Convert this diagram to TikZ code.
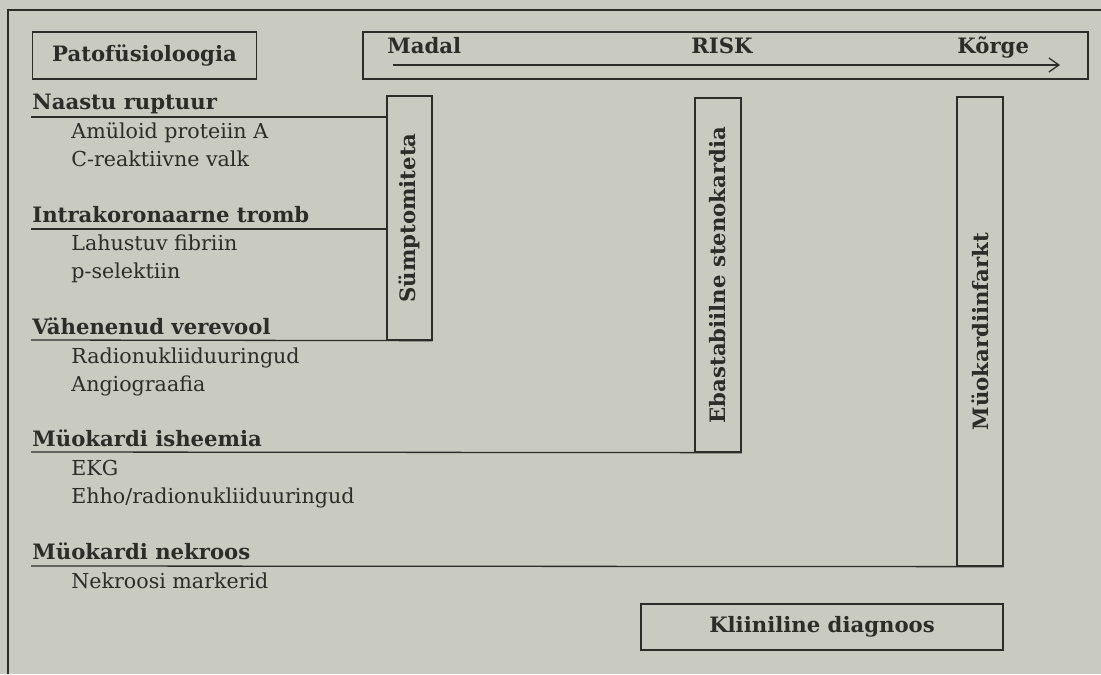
\documentclass[tikz,border=0pt]{standalone}
\usepackage{fontspec}
\setmainfont{DejaVu Serif}
\usetikzlibrary{arrows.meta}
\definecolor{paper}{RGB}{201,203,192}
\definecolor{ink}{RGB}{44,44,40}
\begin{document}
\begin{tikzpicture}[x=0.5pt,y=-0.5pt,
  every node/.style={text=ink},
  bfont/.style={font=\fontsize{10.6}{12}\selectfont\bfseries},
  box/.style={draw=ink, line width=0.65pt, inner sep=0pt},
  head/.style={bfont, anchor=base west, inner sep=0pt},
  sub/.style={font=\fontsize{10.3}{12}\selectfont, anchor=base west, inner sep=0pt},
  rule/.style={draw=ink, line width=0.65pt},
  vlabel/.style={bfont, rotate=90, inner sep=0pt}]
\fill[paper] (0,0) rectangle (1101,674);
\useasboundingbox (0,0) rectangle (1101,674);
% outer frame
\coordinate (fbl) at (8,674);
\coordinate (ftl) at (8,10);
\coordinate (ftr) at (1101,10);
\draw[rule] (fbl) -- (ftl) -- (ftr);
% top boxes
\node[box, minimum width=112pt, minimum height=23.5pt, bfont] (pato) at (144.5,55.5) {Patofüsioloogia};
\node[box, minimum width=362.5pt, minimum height=23.5pt] (risk) at (725.5,55.5) {};
\node[head] (madal) at (387,54) {Madal};
\node[bfont, anchor=base, inner sep=0pt] (risklbl) at (722,54) {RISK};
\node[head] (korge) at (957,54) {Kõrge};
\coordinate (arS) at (393,65);
\coordinate (arE) at (1060,65);
\draw[rule, -{Straight Barb[length=5pt,width=7pt]}] (arS) -- (arE);
% vertical boxes
\node[box, minimum width=22.5pt, minimum height=122pt] (symp) at (409.5,218) {};
\node[vlabel] (symplbl) at (symp.center) {Sümptomiteta};
\node[box, minimum width=23pt, minimum height=177pt] (ebast) at (718,275) {};
\node[vlabel] (ebastlbl) at (ebast.center) {Ebastabiilne stenokardia};
\node[box, minimum width=23pt, minimum height=234.5pt] (infarkt) at (980,331.5) {};
\node[vlabel] (infarktlbl) at (infarkt.center) {Müokardiinfarkt};
\node[box, minimum width=181pt, minimum height=23pt, bfont] (diag) at (822,627) {Kliiniline diagnoos};
% left column
\node[head] (h1) at (32,110) {Naastu ruptuur};
\node[sub] (s11) at (71,138) {Amüloid proteiin A};
\node[sub] (s12) at (71,166) {C-reaktiivne valk};
\node[head] (h2) at (32,222) {Intrakoronaarne tromb};
\node[sub] (s21) at (71,250) {Lahustuv fibriin};
\node[sub] (s22) at (71,278) {p-selektiin};
\node[head] (h3) at (32,334) {Vähenenud verevool};
\node[sub] (s31) at (71,363) {Radionukliiduuringud};
\node[sub] (s32) at (71,391) {Angiograafia};
\node[head] (h4) at (32,446) {Müokardi isheemia};
\node[sub] (s41) at (71,475) {EKG};
\node[sub] (s42) at (71,503) {Ehho/radionukliiduuringud};
\node[head] (h5) at (32,559) {Müokardi nekroos};
\node[sub] (s51) at (71,588) {Nekroosi markerid};
% underlines
\coordinate (u1) at (31,117);
\coordinate (u2) at (31,229);
\coordinate (u3) at (31,340);
\coordinate (u4) at (31,452);
\coordinate (u5) at (31,566);
\draw[rule] (u1) -- (u1 -| symp.west);
\draw[rule] (u2) -- (u2 -| symp.west);
\draw[rule] (u3) -- (symp.south east);
\draw[rule] (u4) -- (ebast.south east);
\draw[rule] (u5) -- (infarkt.south east);
\end{tikzpicture}
\end{document}
